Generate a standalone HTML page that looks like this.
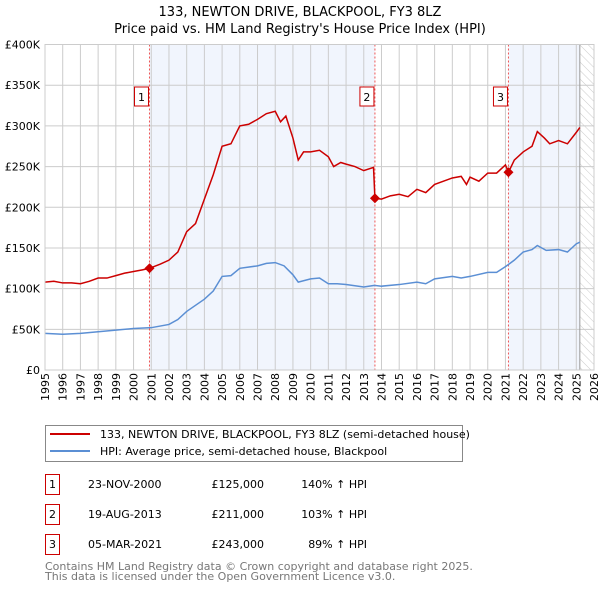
<!DOCTYPE html>
<html><head><meta charset="utf-8"><style>
body{margin:0;background:#fff;font-family:"DejaVu Sans","Liberation Sans",sans-serif;}
svg text{font-family:"DejaVu Sans","Liberation Sans",sans-serif;}
</style></head><body>
<svg id="c" width="600" height="590" xmlns="http://www.w3.org/2000/svg">
<defs><pattern id="hatch" width="6" height="6" patternUnits="userSpaceOnUse" patternTransform="rotate(-45)"><line x1="0" y1="0" x2="0" y2="6" stroke="#ccc" stroke-width="1"/></pattern></defs>
<text x="300" y="16" text-anchor="middle" font-size="13">133, NEWTON DRIVE, BLACKPOOL, FY3 8LZ</text>
<text x="300" y="33" text-anchor="middle" font-size="13">Price paid vs. HM Land Registry's House Price Index (HPI)</text>
<g id="plot"></g>
<g>
<rect x="45.5" y="425.5" width="417" height="36" fill="#fff" stroke="#888"/>
<line x1="50" y1="434" x2="90" y2="434" stroke="#cc0000" stroke-width="2"/>
<text x="100" y="438" font-size="11">133, NEWTON DRIVE, BLACKPOOL, FY3 8LZ (semi-detached house)</text>
<line x1="50" y1="451" x2="90" y2="451" stroke="#5b8fd4" stroke-width="2"/>
<text x="100" y="455" font-size="11">HPI: Average price, semi-detached house, Blackpool</text>
</g>
<g id="table" font-size="11"></g>
<text x="45" y="570" font-size="11" fill="#777">Contains HM Land Registry data © Crown copyright and database right 2025.</text>
<text x="45" y="580" font-size="11" fill="#777">This data is licensed under the Open Government Licence v3.0.</text>
</svg>
<script>
const yTicks=[0,50,100,150,200,250,300,350,400];
const years=[1995,1996,1997,1998,1999,2000,2001,2002,2003,2004,2005,2006,2007,2008,2009,2010,2011,2012,2013,2014,2015,2016,2017,2018,2019,2020,2021,2022,2023,2024,2025,2026];
const saleDates=[2000.9,2013.63,2021.17];
const salePrices=[125,211,243];
const saleLabels=["1","2","3"];
const saleDateText=["23-NOV-2000","19-AUG-2013","05-MAR-2021"];
const salePriceText=["£125,000","£211,000","£243,000"];
const saleHpiText=["140% ↑ HPI","103% ↑ HPI","89% ↑ HPI"];
const redT=[1995,1995.5,1996,1996.5,1997,1997.5,1998,1998.5,1999,1999.5,2000,2000.5,2000.9,2001.5,2002,2002.5,2003,2003.5,2004,2004.5,2005,2005.5,2006,2006.5,2007,2007.5,2008,2008.3,2008.6,2009,2009.3,2009.6,2010,2010.5,2011,2011.3,2011.7,2012,2012.5,2013,2013.55,2013.63,2014,2014.5,2015,2015.5,2016,2016.5,2017,2017.5,2018,2018.5,2018.8,2019,2019.5,2020,2020.5,2021.0,2021.17,2021.5,2022,2022.5,2022.8,2023.2,2023.5,2024,2024.5,2025,2025.2];
const redV=[108,109,107,107,106,109,113,113,116,119,121,123,125,130,135,145,170,180,210,240,275,278,300,302,308,315,318,305,312,285,258,268,268,270,262,250,255,253,250,245,249,211,210,214,216,213,222,218,228,232,236,238,228,237,232,242,242,252,243,258,268,275,293,285,278,282,278,292,298];
const hpiT=[1995,1996,1997,1998,1999,2000,2001,2002,2002.5,2003,2004,2004.5,2005,2005.5,2006,2007,2007.5,2008,2008.5,2009,2009.3,2010,2010.5,2011,2011.5,2012,2013,2013.6,2014,2015,2016,2016.5,2017,2018,2018.5,2019,2020,2020.5,2021,2021.5,2022,2022.5,2022.8,2023.3,2024,2024.5,2025,2025.2];
const hpiV=[45,44,45,47,49,51,52,56,62,72,87,97,115,116,125,128,131,132,128,117,108,112,113,106,106,105,102,104,103,105,108,106,112,115,113,115,120,120,127,135,145,148,153,147,148,145,155,157];
const X0=45,X1=594,Y0=370,Y1=44.5,T0=1995,T1=2026,dataEnd=2025.2;
const xs=t=>X0+(t-T0)/(T1-T0)*(X1-X0);
const ys=v=>Y0-v/400*(Y0-Y1);
const NS="http://www.w3.org/2000/svg";
const plot=document.getElementById('plot');
function mk(tag,attrs,parent){const e=document.createElementNS(NS,tag);for(const k in attrs)e.setAttribute(k,attrs[k]);(parent||plot).appendChild(e);return e;}
let e;
e=mk('rect',{x:xs(saleDates[0]),y:Y1,width:xs(saleDates[1])-xs(saleDates[0]),height:Y0-Y1,fill:'#eef3fc',opacity:0.8});


e=mk('rect',{x:xs(saleDates[2]),y:Y1,width:xs(dataEnd)-xs(saleDates[2]),height:Y0-Y1,fill:'#eef3fc',opacity:0.8});


e=mk('rect',{x:xs(dataEnd),y:Y1,width:X1-xs(dataEnd),height:Y0-Y1,fill:'url(#hatch)'});


years.forEach(y=>{
 e=mk('line',{x1:xs(y),x2:xs(y),y1:Y1,y2:Y0,stroke:'#ccc','stroke-width':1});
 
 
 e=mk('text',{transform:`translate(${xs(y)+4},${Y0+31}) rotate(-90)`,'font-size':11});
 e.textContent=y;
 
 
});
yTicks.forEach(v=>{
 e=mk('line',{x1:X0,x2:X1,y1:ys(v),y2:ys(v),stroke:'#ccc','stroke-width':1});
 
 
 e=mk('text',{x:40,y:ys(v)+4,'text-anchor':'end','font-size':11});
 e.textContent=v===0?'£0':'£'+v+'K';
 
 
});
e=mk('line',{x1:xs(dataEnd),x2:xs(dataEnd),y1:Y1,y2:Y0,stroke:'#999','stroke-width':1});


saleDates.forEach((d,i)=>{
 e=mk('line',{x1:xs(d),x2:xs(d),y1:Y1,y2:Y0,stroke:'#e55','stroke-width':1,'stroke-dasharray':'2,2'});
 
 
 e=mk('rect',{x:xs(d)-15,y:87,width:14,height:19,fill:'#fff',stroke:'#cc0000'});
 
 
 e=mk('text',{x:xs(d)-8,y:101,'text-anchor':'middle','font-size':11});
 e.textContent=saleLabels[i];
 
 
});
e=mk('polyline',{points:hpiT.map((t,i)=>xs(t)+','+ys(hpiV[i])).join(' '),fill:'none',stroke:'#5b8fd4','stroke-width':1.5});


e=mk('polyline',{points:redT.map((t,i)=>xs(t)+','+ys(redV[i])).join(' '),fill:'none',stroke:'#cc0000','stroke-width':1.5});


saleDates.forEach((d,i)=>{
 const cx=xs(d),cy=ys(salePrices[i]);
 e=mk('polygon',{points:`${cx},${cy-5} ${cx+5},${cy} ${cx},${cy+5} ${cx-5},${cy}`,fill:'#cc0000'});
 
 
});
e=mk('rect',{x:X0,y:Y1,width:X1-X0,height:Y0-Y1,fill:'none',stroke:'#ccc'});


const tbl=document.getElementById('table');
saleDates.forEach((d,i)=>{
 const y=483+i*30;
 e=mk('rect',{x:45.5,y:y-8.5,width:14,height:20,fill:'#fff',stroke:'#cc0000'},tbl);
 
 
 e=mk('text',{x:52.5,y:y+5,'text-anchor':'middle'},tbl);e.textContent=saleLabels[i];
 
 
 e=mk('text',{x:88,y:y+5},tbl);e.textContent=saleDateText[i];
 
 
 e=mk('text',{x:264,y:y+5,'text-anchor':'end'},tbl);e.textContent=salePriceText[i];
 
 
 e=mk('text',{x:367,y:y+5,'text-anchor':'end'},tbl);e.textContent=saleHpiText[i];
 
 
});
</script>
</body></html>
